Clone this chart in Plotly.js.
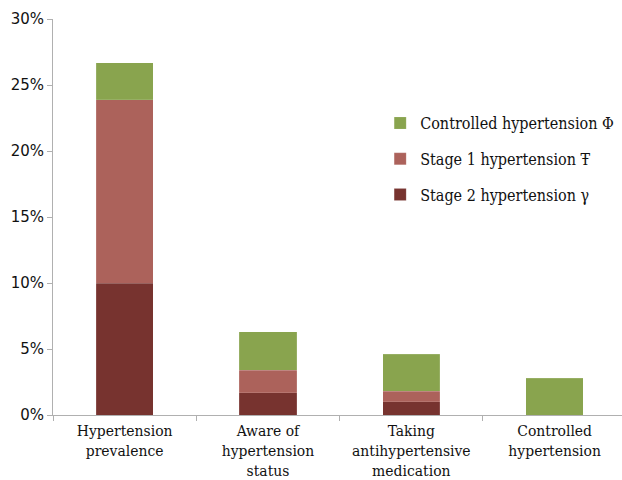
<!DOCTYPE html>
<html><head><meta charset="utf-8">
<script src="https://cdn.plot.ly/plotly-3.0.1.min.js"></script>
<style>body{margin:0;background:#fff}#chart{width:622px;height:480px}</style>
</head><body><div id="chart"></div>
<script>
const categories = ["Hypertension<br>prevalence", "Aware of<br>hypertension<br>status", "Taking<br>antihypertensive<br>medication", "Controlled<br>hypertension"];
const stage2 = [0.100, 0.017, 0.010, 0.0];
const stage1 = [0.139, 0.017, 0.008, 0.0];
const controlled = [0.028, 0.029, 0.028, 0.028];
const seriesNames = ["Stage 2 hypertension \u03b3", "Stage 1 hypertension \u0166", "Controlled hypertension \u03a6"];
const colors = ["#77332F", "#AC625B", "#89A44E"];
const yTicks = [0, 0.05, 0.10, 0.15, 0.20, 0.25, 0.30];
const yTickText = ["0%", "5%", "10%", "15%", "20%", "25%", "30%"];

const serif = "DejaVu Serif Condensed, DejaVu Serif, serif";
const series = [stage2, stage1, controlled];
const traces = series.map((v, i) => ({
  type: "bar", x: categories, y: v, name: seriesNames[i],
  legendgroup: "g" + i, legendrank: 3 - i,
  marker: {color: colors[i], line: {color: "rgba(255,255,255,0.25)", width: 0.5}},
  hoverinfo: "skip"
}));
Plotly.newPlot("chart", traces, {
  width: 622, height: 480,
  margin: {l: 53, r: 0, t: 19, b: 65},
  barmode: "stack", bargap: 0.6,
  paper_bgcolor: "#fff", plot_bgcolor: "#fff",
  showlegend: true,
  legend: {x: 0.575, y: 0.78, xanchor: "left", yanchor: "top",
    traceorder: "grouped", tracegroupgap: 12, itemwidth: 30,
    font: {family: serif, size: 16, color: "#111"}, bgcolor: "rgba(0,0,0,0)"},
  xaxis: {type: "category", range: [-0.5, 3.47], showline: true, linecolor: "#b0b0b0", linewidth: 1,
    ticks: "outside", tickson: "boundaries", ticklen: 5, tickcolor: "#b0b0b0",
    ticklabelstandoff: 1,
    tickfont: {family: serif, size: 15.5, color: "#111"}, showgrid: false, zeroline: false},
  yaxis: {range: [0, 0.30], tickvals: yTicks, ticktext: yTickText,
    showline: true, linecolor: "#b0b0b0", linewidth: 1, ticks: "outside", ticklen: 5,
    tickcolor: "#b0b0b0", showgrid: false, zeroline: false,
    tickfont: {family: "DejaVu Sans, sans-serif", size: 15, color: "#111"}}
}, {staticPlot: true});
</script></body></html>
